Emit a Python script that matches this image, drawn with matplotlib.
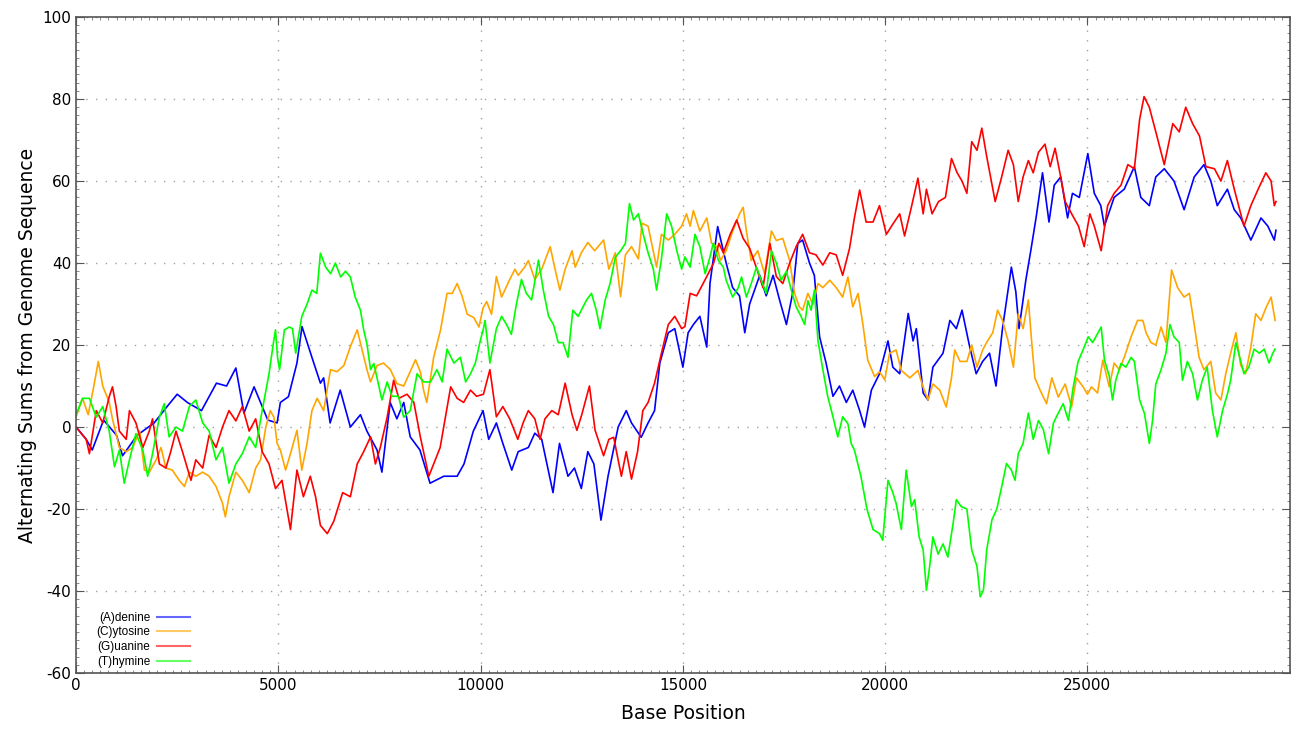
import numpy as np
import matplotlib
matplotlib.use("Agg")
import matplotlib.pyplot as plt
from matplotlib.ticker import MultipleLocator

plt.rcParams["axes.unicode_minus"] = False

# values: (base position, alternating sum)
adenine = [(0, 0), (250, -3), (400, -5.6), (680, 1.7), (1000, -2), (1150, -7), (1510, -2), (1930, 1), (2250, 5), (2500, 8),
           (2750, 6), (3100, 4), (3470, 10.7), (3720, 10), (3950, 14.4), (4150, 3.4), (4400, 9.8), (4740, 1.7), (4970, 1),
           (5050, 6), (5250, 7.4), (5460, 15.6), (5585, 24.5), (5830, 17), (6040, 10.7), (6120, 12), (6280, 1), (6530, 9),
           (6780, 0), (7030, 3), (7190, -1), (7440, -5.6), (7560, -11), (7765, 6), (7930, 2), (8100, 6), (8260, -2.4),
           (8500, -5.6), (8750, -13.7), (9090, -12), (9420, -12), (9590, -9), (9820, -1), (10060, 4), (10200, -3),
           (10390, 1), (10550, -4), (10770, -10.5), (10930, -6), (11180, -5), (11340, -1.5), (11510, -3), (11790, -16),
           (11950, -4), (12160, -12), (12320, -10), (12490, -15), (12650, -6), (12800, -9), (12975, -22.7), (13150, -12),
           (13400, 0), (13600, 4), (13730, 1), (13970, -2.5), (14140, 1), (14300, 4), (14430, 15.6), (14640, 23),
           (14800, 24), (15000, 14.6), (15130, 23), (15260, 25), (15420, 27), (15590, 19.5), (15670, 35), (15860, 48.9),
           (16070, 40), (16230, 34), (16400, 32), (16530, 23), (16650, 30), (16900, 37), (17060, 32), (17230, 37),
           (17390, 31), (17560, 25), (17720, 33), (17840, 44.8), (17960, 45.6), (18130, 40), (18250, 37), (18380, 22),
           (18540, 15.6), (18710, 7.5), (18870, 10), (19040, 6), (19200, 9), (19370, 4), (19490, 0), (19660, 9),
           (19860, 13), (20070, 21), (20190, 14.6), (20360, 13), (20570, 27.7), (20690, 21), (20770, 24), (20940, 8.3),
           (21060, 6.6), (21180, 14.6), (21430, 18), (21600, 26), (21760, 24), (21900, 28.5), (22080, 20), (22250, 13),
           (22410, 16), (22580, 18), (22740, 10), (22900, 24), (23120, 39), (23230, 33), (23310, 24), (23480, 36),
           (23600, 43), (23730, 51), (23890, 62), (24050, 50), (24180, 59), (24340, 61), (24510, 51), (24630, 57),
           (24800, 56), (25010, 66.7), (25170, 57), (25330, 54), (25420, 49), (25660, 56), (25910, 58), (26160, 63.5),
           (26320, 56), (26530, 54), (26690, 61), (26900, 63), (27140, 60), (27390, 53), (27640, 61), (27880, 64),
           (28050, 60), (28210, 54), (28460, 58), (28630, 53), (28790, 51), (29040, 45.6), (29290, 51), (29460, 49),
           (29620, 45.6), (29660, 48)]

cytosine = [(0, 2.5), (160, 7), (300, 3), (420, 9), (550, 16), (660, 10), (820, 6), (900, 2), (1070, -5), (1240, -6),
            (1400, -5), (1570, -1), (1690, -10.5), (1810, -11), (1980, -8), (2100, -5), (2220, -10), (2380, -10.5),
            (2550, -13), (2680, -14.5), (2800, -11), (2960, -12), (3130, -11), (3290, -12), (3460, -14.5), (3620, -18.6),
            (3690, -21.9), (3780, -17), (3950, -11), (4110, -13), (4280, -16), (4440, -10), (4560, -8), (4690, 0),
            (4800, 4), (4890, 2.4), (4970, -4), (5050, -5.6), (5180, -10.5), (5300, -6.5), (5460, -0.8), (5580, -10.5),
            (5710, -4), (5830, 4), (5960, 7), (6120, 4), (6290, 14), (6450, 13.5), (6620, 15), (6780, 19.6), (6950, 23.7),
            (7070, 18.8), (7190, 14), (7280, 11), (7440, 15), (7600, 15.6), (7770, 14), (7930, 10.6), (8100, 10),
            (8260, 13.5), (8390, 16.4), (8510, 13.5), (8590, 9), (8670, 6), (8840, 17), (9010, 23.7), (9170, 32.6),
            (9300, 32.6), (9420, 35), (9540, 32), (9670, 27.5), (9830, 26.7), (9960, 24.4), (10060, 29), (10150, 30.6),
            (10270, 27.5), (10390, 36.7), (10520, 31.7), (10720, 36), (10850, 38.5), (10930, 37), (11090, 39),
            (11180, 40.6), (11340, 36), (11510, 38.5), (11720, 44), (11840, 38.5), (11960, 33.4), (12090, 38.5),
            (12260, 43), (12340, 39), (12490, 42.5), (12650, 45), (12820, 43), (13040, 45.6), (13170, 38.5),
            (13330, 42.5), (13460, 31.8), (13580, 42), (13730, 44), (13900, 41), (13990, 49.7), (14140, 49), (14350, 39),
            (14470, 47), (14640, 45.6), (14800, 47), (14970, 49), (15090, 52), (15180, 49), (15260, 52.8), (15420, 47.8),
            (15590, 51), (15710, 44.8), (15840, 44), (15930, 40.6), (16070, 43), (16230, 47.8), (16400, 52),
            (16490, 53.6), (16570, 47.8), (16690, 40.6), (16850, 43), (17020, 37.4), (17190, 47.8), (17310, 45.5),
            (17470, 46), (17640, 40.6), (17760, 32.6), (17880, 29.3), (17960, 28.5), (18090, 32.6), (18210, 30),
            (18340, 35), (18460, 34), (18630, 35.8), (18790, 34), (18950, 31.7), (19080, 36.6), (19200, 29.3),
            (19330, 32.6), (19450, 25), (19570, 16.3), (19740, 12.3), (19860, 13.5), (19990, 11.5), (20110, 18),
            (20270, 18.8), (20400, 13.8), (20610, 12), (20810, 13.8), (20940, 9.7), (21060, 6.6), (21180, 10.5),
            (21350, 9), (21510, 4.9), (21640, 12), (21720, 18.8), (21850, 16), (22020, 16), (22140, 20), (22270, 14.6),
            (22410, 18.8), (22530, 21), (22660, 23), (22780, 28.5), (22900, 26), (23040, 21), (23170, 14.6),
            (23290, 27.6), (23410, 24), (23540, 31), (23620, 21), (23700, 12), (23830, 9), (23990, 5.7), (24120, 12),
            (24280, 7.3), (24450, 10.5), (24610, 4.9), (24730, 12), (24900, 9.7), (25000, 8), (25100, 9.8),
            (25250, 8.3), (25380, 16.3), (25540, 9.8), (25660, 15.6), (25790, 14), (25910, 17), (26080, 22),
            (26240, 26), (26370, 26), (26450, 23), (26570, 20.6), (26690, 20), (26820, 24.4), (26940, 20.6),
            (27080, 38.3), (27230, 34), (27390, 31.7), (27520, 32.6), (27640, 25), (27760, 17), (27880, 14),
            (28050, 16), (28170, 8.3), (28300, 6.6), (28420, 13), (28540, 18), (28670, 23), (28790, 15), (28910, 13),
            (29040, 19.5), (29160, 27.6), (29290, 26), (29410, 29), (29540, 31.7), (29640, 26)]

guanine = [(0, 0), (250, -3), (330, -6.5), (500, 4), (660, 1), (820, 7.4), (900, 9.8), (990, 5), (1070, -1), (1240, -3),
           (1320, 4), (1480, 1), (1650, -5), (1810, -1), (1890, 2), (2060, -9), (2220, -10), (2340, -6), (2470, -1),
           (2630, -6), (2840, -13), (2960, -8), (3130, -10), (3290, -2), (3460, -5), (3620, 0), (3780, 4), (3950, 1.5),
           (4110, 5), (4280, -1), (4440, 2), (4600, -6), (4770, -9), (4930, -15), (5090, -13), (5300, -25),
           (5460, -10.5), (5620, -17), (5790, -12), (5920, -17), (6040, -24), (6210, -26), (6370, -23), (6590, -16),
           (6780, -17), (6950, -9), (7110, -6), (7280, -2.4), (7400, -9), (7520, -5), (7690, 2.4), (7850, 11.4),
           (7980, 7), (8180, 8), (8350, 6), (8510, -2.4), (8720, -12), (8840, -9), (9000, -5), (9130, 2.4), (9260, 9.8),
           (9420, 7), (9580, 6), (9750, 9), (9900, 7.5), (10070, 8), (10230, 14), (10390, 2.5), (10550, 5),
           (10720, 2), (10920, -3), (11050, 1), (11180, 4), (11340, 2), (11470, -3), (11590, 2), (11760, 4),
           (11920, 3), (12090, 10.7), (12260, 3), (12380, -0.8), (12500, 3), (12690, 10), (12830, -0.8), (13040, -7),
           (13170, -3), (13290, -2.5), (13480, -12), (13600, -6), (13730, -12.7), (13880, -6), (14010, 4), (14140, 6),
           (14300, 10.7), (14470, 18), (14640, 25), (14800, 27), (14970, 24), (15050, 24.5), (15180, 32.6),
           (15340, 32), (15420, 33.5), (15590, 36.7), (15760, 40), (15890, 44.8), (16000, 42.5), (16170, 47),
           (16330, 50.5), (16490, 46), (16650, 43.6), (16820, 38.8), (16980, 34), (17150, 44.8), (17310, 36.7),
           (17470, 35), (17640, 40), (17800, 44), (17960, 47), (18130, 42.5), (18290, 42), (18460, 39.5),
           (18630, 42.5), (18790, 42), (18950, 37), (19120, 43.6), (19240, 51), (19370, 57.8), (19530, 50),
           (19700, 50), (19860, 54), (20030, 47), (20190, 49.5), (20360, 52), (20480, 46.6), (20650, 53.7),
           (20810, 60.7), (20940, 52), (21020, 58), (21160, 52), (21320, 55), (21490, 56), (21640, 65.5), (21780, 62),
           (21900, 60), (22020, 57), (22140, 69.6), (22270, 67.5), (22390, 72.9), (22510, 66), (22720, 55),
           (22880, 61), (23040, 67.5), (23170, 64), (23290, 55), (23410, 61), (23540, 65), (23660, 62), (23790, 67),
           (23950, 69), (24080, 63.5), (24200, 68), (24320, 62), (24450, 55), (24610, 52), (24780, 49), (24920, 44),
           (25060, 52), (25170, 49), (25340, 43), (25500, 54), (25660, 57), (25830, 59), (26000, 64), (26160, 63),
           (26290, 75), (26400, 80.6), (26530, 78), (26690, 72), (26900, 64), (27110, 74), (27270, 72), (27430, 78),
           (27600, 74), (27770, 71), (27930, 63.5), (28140, 63), (28300, 60), (28460, 65), (28630, 58), (28870, 49),
           (29040, 54), (29220, 58), (29410, 62), (29540, 60), (29620, 54), (29660, 55)]

thymine = [(0, 3), (160, 7), (330, 7), (500, 2.4), (660, 5), (820, -1), (950, -9.7), (1070, -5.6), (1190, -13.7),
           (1320, -8), (1480, -1.6), (1650, -5.6), (1770, -12), (1890, -6.5), (2060, 2.4), (2180, 5.7), (2300, -2.4),
           (2470, 0), (2630, -1), (2800, 5), (2960, 6.6), (3130, 1), (3290, -1), (3460, -8), (3620, -5), (3780, -13.7),
           (3950, -9), (4110, -6.5), (4280, -2.4), (4440, -5), (4600, 4), (4770, 13), (4870, 20), (4930, 23.7),
           (4980, 17), (5030, 14), (5150, 23.7), (5270, 24.4), (5350, 24), (5430, 18), (5580, 27), (5710, 30),
           (5830, 33.4), (5950, 32.6), (6040, 42.4), (6170, 39), (6290, 37.4), (6410, 40), (6540, 36.6), (6660, 38),
           (6780, 36.6), (6900, 31.7), (7030, 28.5), (7110, 23.7), (7190, 20.3), (7280, 14), (7360, 15.5), (7440, 12),
           (7560, 6.6), (7690, 11), (7810, 7.5), (7970, 7.5), (8100, 2.4), (8260, 4), (8430, 13), (8590, 11),
           (8760, 11), (8920, 14), (9050, 11), (9170, 19), (9340, 15.6), (9500, 17), (9630, 11), (9750, 13),
           (9870, 15.6), (9990, 21), (10070, 24), (10110, 26), (10230, 15.6), (10390, 24), (10520, 27), (10640, 25),
           (10760, 22.6), (10880, 29.7), (11010, 36), (11130, 32.6), (11260, 31), (11430, 40.7), (11550, 33.4),
           (11680, 27), (11800, 25), (11920, 20.6), (12040, 20.6), (12160, 17), (12280, 28.5), (12410, 27),
           (12490, 28.5), (12620, 31), (12740, 32.6), (12860, 28.5), (12950, 24), (13080, 31), (13200, 35),
           (13330, 41.4), (13460, 43), (13580, 44.8), (13680, 54.5), (13780, 50.5), (13900, 52), (14020, 47),
           (14140, 42.5), (14270, 38.5), (14350, 33.4), (14470, 41), (14600, 52), (14720, 49), (14850, 43),
           (14970, 38.5), (15050, 41.5), (15180, 39), (15300, 47), (15420, 44), (15550, 37.4), (15670, 41.5),
           (15750, 44.8), (15880, 40.6), (16000, 39), (16070, 35.8), (16230, 31.7), (16370, 34), (16450, 36.6),
           (16570, 31.7), (16690, 35), (16820, 39), (16940, 35.8), (17060, 32.6), (17190, 43), (17310, 40),
           (17430, 35.8), (17560, 38), (17680, 33.4), (17800, 29.3), (17920, 27), (18010, 25), (18090, 30.8),
           (18170, 28.5), (18250, 33.4), (18340, 21), (18460, 14), (18580, 7.5), (18710, 2.5), (18830, -2.4),
           (18950, 2.5), (19080, 0.8), (19160, -4), (19240, -5.6), (19400, -12), (19550, -20), (19700, -25),
           (19860, -26), (19940, -27.6), (20070, -13), (20190, -16), (20270, -18.6), (20400, -25), (20520, -10.5),
           (20650, -19.4), (20730, -17.7), (20840, -26.8), (20940, -30), (21020, -39.8), (21100, -34), (21180, -26.8),
           (21310, -31), (21430, -28.5), (21550, -31.7), (21680, -23.5), (21760, -17.7), (21880, -19.4), (22020, -20),
           (22140, -30), (22270, -34), (22350, -41.4), (22430, -39.8), (22510, -30), (22640, -22.6), (22760, -20),
           (22880, -14.6), (23000, -8.9), (23120, -10.5), (23210, -13), (23290, -6.5), (23410, -4), (23540, 3.4),
           (23660, -3), (23790, 1.6), (23910, -0.6), (24040, -6.5), (24160, 1), (24280, 3.4), (24400, 5.7),
           (24530, 1.6), (24650, 9.8), (24770, 16), (24900, 19), (25020, 22), (25130, 20.6), (25340, 24.4),
           (25420, 16.4), (25540, 12.4), (25620, 6.6), (25700, 11.4), (25830, 15.5), (25950, 14.6), (26080, 17),
           (26160, 16), (26290, 6.6), (26410, 3.3), (26530, -4), (26610, 1.6), (26690, 10.5), (26820, 14),
           (26940, 18), (27040, 25), (27140, 22), (27270, 20.6), (27350, 11.4), (27470, 16), (27600, 13),
           (27720, 6.6), (27840, 11.4), (27960, 14.6), (28090, 4), (28210, -2.4), (28340, 4), (28460, 8),
           (28540, 11.4), (28670, 20.6), (28790, 16), (28870, 13), (28990, 14.6), (29120, 19), (29250, 18),
           (29370, 19), (29490, 15.6), (29580, 18), (29640, 19)]

labels = ["(A)denine", "(C)ytosine", "(G)uanine", "(T)hymine"]
colors = ["#0000ff", "#ffa500", "#ff0000", "#00ff00"]
xticks = [0, 5000, 10000, 15000, 20000, 25000]
yticks = [-60, -40, -20, 0, 20, 40, 60, 80, 100]

fig = plt.figure(figsize=(12.98, 7.31), dpi=100)
ax = fig.add_axes([0.0586, 0.0793, 0.935, 0.8974])

for series, lab, col in zip([adenine, cytosine, guanine, thymine], labels, colors):
    arr = np.array(series)
    ax.plot(arr[:, 0], arr[:, 1], color=col, lw=1.2, label=lab)

ax.set_xlim(0, 30000)
ax.set_ylim(-60, 100)
ax.set_xticks(xticks)
ax.set_yticks(yticks)
ax.xaxis.set_minor_locator(MultipleLocator(200))
ax.yaxis.set_minor_locator(MultipleLocator(2))
ax.tick_params(direction="in", top=True, right=True, length=6, labelsize=11, color="#555555")
ax.tick_params(which="minor", direction="in", top=True, right=True, length=2, width=0.7, color="#888888")
ax.grid(True, color="#a0a0a0", linestyle=(0, (1, 6)), lw=1)
for s in ax.spines.values():
    s.set_linewidth(1.2)
    s.set_color("#555555")

ax.set_xlabel("Base Position", fontsize=13.5, labelpad=8)
ax.set_ylabel("Alternating Sums from Genome Sequence", fontsize=13.5, labelpad=4)

leg = ax.legend(loc="lower left", bbox_to_anchor=(0.008, -0.008), frameon=False, markerfirst=False,
                handlelength=2.8, handletextpad=0.6, labelspacing=0.22,
                prop={"family": "Liberation Sans", "size": 8.5})
for line in leg.get_lines():
    line.set_alpha(0.6)
    line.set_linewidth(1.5)

fig.savefig("out.png", dpi=100)
